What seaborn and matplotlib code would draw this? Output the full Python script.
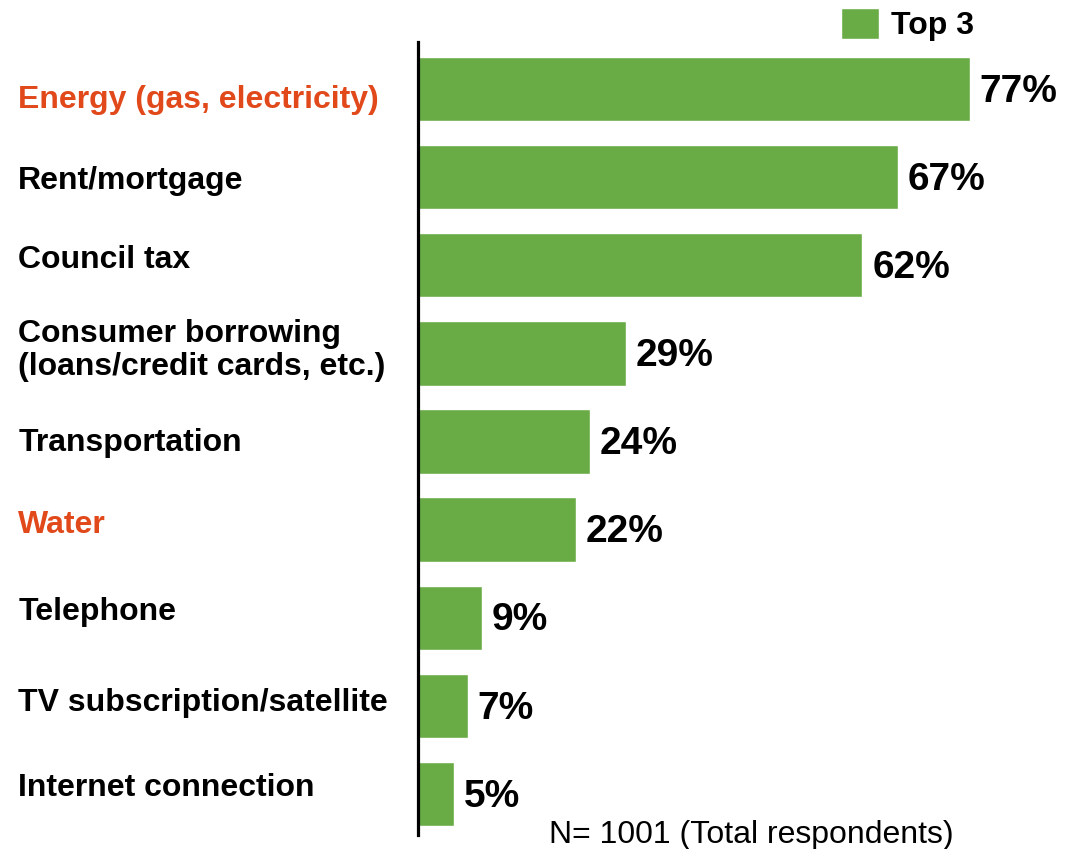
import matplotlib
matplotlib.use("Agg")
import matplotlib.pyplot as plt
import matplotlib.transforms as mtransforms
import seaborn as sns
import pandas as pd

categories = [
    "Energy (gas, electricity)",
    "Rent/mortgage",
    "Council tax",
    "Consumer borrowing\n(loans/credit cards, etc.)",
    "Transportation",
    "Water",
    "Telephone",
    "TV subscription/satellite",
    "Internet connection",
]
top3 = [77, 67, 62, 29, 24, 22, 9, 7, 5]
highlighted = ["Energy (gas, electricity)", "Water"]
series_name = "Top 3"
footnote = "N= 1001 (Total respondents)"

GREEN = "#69AC46"
ORANGE = "#E1491B"
FONT = ["Liberation Sans", "DejaVu Sans"]

sns.set_theme(style="white")
plt.rcParams["font.family"] = FONT

df = pd.DataFrame({"category": categories, "value": top3})

fig = plt.figure(figsize=(10.74, 8.49), dpi=100)
ax = fig.add_axes([0.389, 0.0165, 0.611, 0.934])

sns.barplot(data=df, x="value", y="category", orient="h", color=GREEN,
            saturation=1, width=0.73, ax=ax, label=series_name)

ax.set_xlim(0, 91.5)
ax.set_ylim(8.466, -0.534)
ax.set_xlabel("")
ax.set_ylabel("")
ax.set_xticks([])
ax.set_yticks([])
for side in ["top", "right", "bottom"]:
    ax.spines[side].set_visible(False)
ax.spines["left"].set_color("black")
ax.spines["left"].set_linewidth(2.3)

# value labels at the end of each bar
for i, v in enumerate(top3):
    ax.annotate(f"{v}%", xy=(v, i), xytext=(7, -2), textcoords="offset points",
                ha="left", va="center", fontsize=28, fontweight="bold",
                color="black")

# category labels, left-aligned at the figure edge
label_nudge = [-8, -3, 4, 2, -1, 3, 4, 2, 4]
trans = mtransforms.blended_transform_factory(fig.transFigure, ax.transData)
for i, (cat, dy) in enumerate(zip(categories, label_nudge)):
    color = ORANGE if cat in highlighted else "black"
    t = mtransforms.offset_copy(trans, fig=fig, x=0, y=dy, units="points")
    ax.text(0.017, i, cat, transform=t, ha="left", va="center",
            fontsize=23, fontweight="bold", color=color, linespacing=1.15)

leg = ax.legend(loc="upper left", bbox_to_anchor=(0.645, 1.043),
                frameon=False, fontsize=23, handlelength=1.2, handleheight=1.1,
                handletextpad=0.35, borderaxespad=0, borderpad=0)
for txt in leg.get_texts():
    txt.set_fontweight("bold")
    txt.set_color("black")

fig.text(0.511, 0.016, footnote, ha="left", va="center", fontsize=23,
         color="black")

fig.savefig("out.png", dpi=100)
